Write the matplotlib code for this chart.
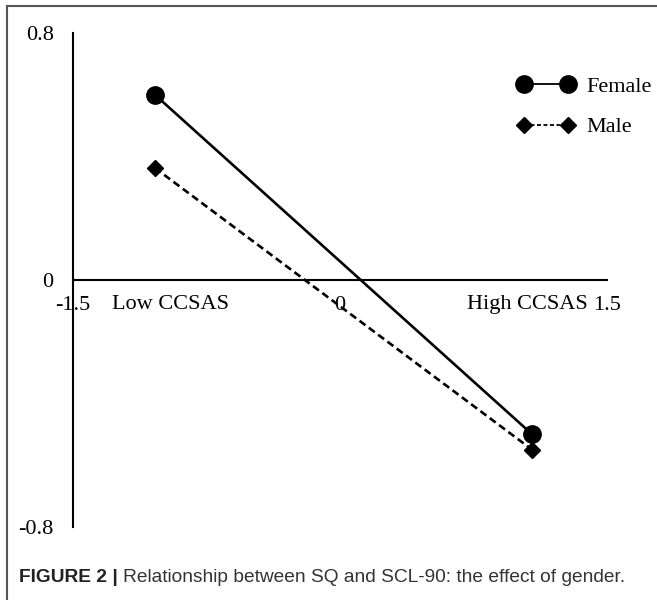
import matplotlib
matplotlib.use("Agg")
import matplotlib.pyplot as plt
from matplotlib.lines import Line2D

# values
levels = ["Low CCSAS", "High CCSAS"]
level_pos = [-0.955, 1.05]
x_pos = [-1.04, 1.08]
female = [0.60, -0.50]
male = [0.363, -0.55]
y_ticks = [-0.8, 0, 0.8]
y_tick_labels = ["-0.8", "0", "0.8"]
x_ticks = [-1.5, 0, 1.5]
x_tick_labels = ["-1.5", "0", "1.5"]
caption_bold = "FIGURE 2 | "
caption_text = "Relationship between SQ and SCL-90: the effect of gender."

SERIF = ["Liberation Serif", "DejaVu Serif"]
SANS = ["Liberation Sans", "DejaVu Sans"]
FS = 16


def main():
    fig = plt.figure(figsize=(6.57, 6.0), dpi=100)
    ax = fig.add_axes([73 / 657, 73 / 600, 534 / 657, 494 / 600])
    ax.set_xlim(-1.5, 1.5)
    ax.set_ylim(-0.8, 0.8)

    for side in ("top", "right"):
        ax.spines[side].set_visible(False)
    ax.spines["bottom"].set_position(("data", 0))
    ax.spines["left"].set_linewidth(1.5)
    ax.spines["bottom"].set_linewidth(1.5)

    ax.set_yticks(y_ticks)
    ax.set_yticklabels(y_tick_labels, fontfamily=SERIF, fontsize=FS)
    ax.tick_params(axis="y", length=0, pad=14)
    ax.set_xticks([])

    ax.plot(x_pos, female, color="black", lw=1.9, marker="o", ms=12.5,
            label="Female", zorder=3)
    ax.plot(x_pos, male, color="black", lw=1.9, ls=(0, (2.8, 1.6)),
            marker="D", ms=8.5, label="Male", zorder=3)

    # x labels sit under the zero line
    for xv, lab in zip(x_ticks, x_tick_labels):
        ax.text(xv, -0.083, lab, ha="center", va="center",
                fontfamily=SERIF, fontsize=FS)
    for xv, lab in zip(level_pos, levels):
        ax.text(xv, -0.078, lab, ha="center", va="center",
                fontfamily=SERIF, fontsize=FS)

    handles = [
        Line2D([], [], color="black", lw=1.3, marker="o", ms=12.5),
        Line2D([], [], color="black", lw=1.3, ls=(0, (2.2, 1.4)),
               marker="D", ms=8.5),
    ]
    ax.legend(handles, ["Female", "Male"], loc="center left",
              bbox_to_anchor=(506 / 657, 493 / 600),
              bbox_transform=fig.transFigure, frameon=False, numpoints=2,
              borderpad=0, handlelength=2.6, handletextpad=0.5,
              labelspacing=0.88, prop={"family": SERIF, "size": FS})

    # outer frame (top and left edges only visible)
    fig.add_artist(Line2D([7 / 657, 1], [594 / 600, 594 / 600],
                          color="#555555", lw=1.5))
    fig.add_artist(Line2D([7 / 657, 7 / 657], [0, 594 / 600],
                          color="#555555", lw=1.5))

    t1 = fig.text(19 / 657, 22 / 600, caption_bold, fontfamily=SANS,
                  fontsize=13.8, fontweight="bold", color="#222222",
                  va="center")
    fig.canvas.draw()
    bb = t1.get_window_extent()
    fig.text(bb.x1 / 657, 22 / 600, caption_text, fontfamily=SANS,
             fontsize=13.8, color="#333333", va="center")

    fig.savefig("out.png", dpi=100)


if __name__ == "__main__":
    main()
